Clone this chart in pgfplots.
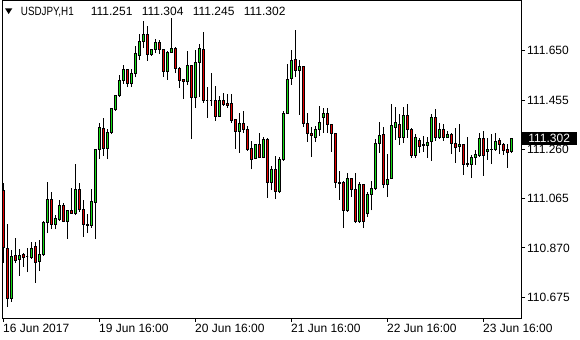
\documentclass[border=0pt]{standalone}
\usepackage{fontspec}
\setmainfont{Liberation Sans}
\usepackage{graphicx}
\usepackage{pgfplots}
\pgfplotsset{compat=1.18}
\usepackage{pgfplotstable}
\definecolor{upc}{RGB}{20,220,20}
\definecolor{dnc}{RGB}{230,0,0}
\pgfdeclareplotmark{candle}{%
  \pgfpathmoveto{\pgfpoint{0pt}{0pt}}%
  \pgfpathlineto{\pgfpoint{0pt}{\cdhh}}%
  \pgfusepathqstroke
  \pgfpathrectangle{\pgfpoint{-1bp}{\cdbb}}{\pgfpoint{2bp}{\cdbt-\cdbb}}%
  \pgfusepathqfillstroke}
\pgfplotstableread{
i o h l c
0 111.096 111.128 110.812 110.873
1 110.866 110.965 110.638 110.671
2 110.671 110.862 110.658 110.838
3 110.839 110.910 110.810 110.822
4 110.823 110.866 110.760 110.841
5 110.842 110.851 110.796 110.834
6 110.836 110.871 110.774 110.836
7 110.834 110.893 110.826 110.866
8 110.877 110.895 110.733 110.814
9 110.818 110.902 110.778 110.845
10 110.842 110.977 110.839 110.969
11 110.969 111.131 110.928 111.060
12 111.060 111.092 110.944 110.964
13 110.964 111.001 110.944 110.985
14 110.981 111.059 110.977 111.036
15 111.036 111.047 110.972 110.974
16 110.974 111.018 110.906 111.018
17 111.017 111.106 111.008 111.008
18 111.008 111.202 111.000 111.103
19 111.103 111.128 111.014 111.023
20 111.023 111.060 110.915 110.964
21 110.964 111.005 110.928 110.958
22 110.960 111.103 110.948 111.052
23 111.051 111.258 110.905 111.258
24 111.258 111.365 111.222 111.346
25 111.341 111.385 111.234 111.265
26 111.265 111.341 111.221 111.328
27 111.328 111.420 111.320 111.420
28 111.419 111.471 111.413 111.471
29 111.471 111.554 111.466 111.531
30 111.531 111.593 111.519 111.574
31 111.574 111.574 111.506 111.519
32 111.519 111.577 111.506 111.558
33 111.558 111.669 111.545 111.637
34 111.633 111.715 111.614 111.688
35 111.686 111.767 111.660 111.716
36 111.716 111.749 111.611 111.636
37 111.636 111.656 111.630 111.653
38 111.653 111.695 111.640 111.682
39 111.682 111.693 111.636 111.656
40 111.653 111.656 111.547 111.567
41 111.567 111.649 111.535 111.642
42 111.642 111.778 111.642 111.660
43 111.660 111.666 111.561 111.581
44 111.581 111.585 111.502 111.532
45 111.535 111.537 111.458 111.528
46 111.528 111.649 111.515 111.590
47 111.590 111.594 111.300 111.466
48 111.466 111.653 111.425 111.605
49 111.605 111.676 111.466 111.657
50 111.656 111.723 111.445 111.453
51 111.453 111.508 111.385 111.453
52 111.453 111.561 111.432 111.453
53 111.455 111.511 111.373 111.389
54 111.389 111.471 111.387 111.455
55 111.452 111.482 111.432 111.439
56 111.443 111.479 111.425 111.433
57 111.443 111.479 111.365 111.373
58 111.376 111.376 111.262 111.330
59 111.330 111.403 111.247 111.363
60 111.363 111.413 111.326 111.337
61 111.340 111.353 111.255 111.258
62 111.265 111.293 111.181 111.221
63 111.225 111.280 111.221 111.278
64 111.278 111.324 111.225 111.227
65 111.227 111.308 111.225 111.297
66 111.297 111.304 111.069 111.128
67 111.128 111.194 111.099 111.179
68 111.179 111.234 111.063 111.093
69 111.093 111.231 111.087 111.221
70 111.218 111.413 111.215 111.403
71 111.403 111.597 111.400 111.537
72 111.541 111.653 111.515 111.610
73 111.614 111.732 111.545 111.570
74 111.570 111.614 111.396 111.586
75 111.586 111.590 111.348 111.363
76 111.363 111.403 111.290 111.324
77 111.324 111.350 111.231 111.313
78 111.308 111.353 111.290 111.340
79 111.340 111.432 111.314 111.367
80 111.387 111.423 111.326 111.403
81 111.403 111.423 111.324 111.359
82 111.360 111.360 111.251 111.324
83 111.324 111.326 111.106 111.130
84 111.130 111.175 111.060 111.126
85 111.130 111.136 110.948 111.018
86 111.018 111.166 111.014 111.146
87 111.146 111.146 111.073 111.102
88 111.102 111.166 110.968 110.974
89 110.974 111.132 110.970 111.122
90 111.122 111.122 110.948 110.974
91 111.008 111.093 110.994 111.083
92 111.083 111.136 111.018 111.106
93 111.106 111.300 111.099 111.281
94 111.281 111.367 111.247 111.313
95 111.317 111.348 111.106 111.122
96 111.122 111.242 111.071 111.142
97 111.146 111.440 111.142 111.353
98 111.348 111.427 111.297 111.365
99 111.360 111.400 111.278 111.306
100 111.306 111.427 111.284 111.392
101 111.392 111.440 111.306 111.340
102 111.340 111.344 111.225 111.235
103 111.235 111.320 111.225 111.308
104 111.294 111.306 111.245 111.271
105 111.280 111.313 111.251 111.275
106 111.275 111.310 111.227 111.288
107 111.290 111.400 111.215 111.387
108 111.387 111.420 111.294 111.306
109 111.306 111.363 111.301 111.340
110 111.340 111.359 111.294 111.306
111 111.306 111.334 111.304 111.320
112 111.320 111.324 111.241 111.284
113 111.284 111.344 111.207 111.267
114 111.271 111.359 111.251 111.280
115 111.280 111.280 111.159 111.201
116 111.202 111.308 111.191 111.198
117 111.201 111.238 111.146 111.227
118 111.227 111.258 111.198 111.238
119 111.235 111.324 111.231 111.304
120 111.304 111.334 111.155 111.235
121 111.251 111.304 111.218 111.261
122 111.261 111.320 111.201 111.258
123 111.258 111.324 111.254 111.290
124 111.293 111.306 111.241 111.280
125 111.280 111.286 111.238 111.255
126 111.258 111.280 111.187 111.249
127 111.251 111.304 111.245 111.302
}\candles
\begin{document}
\begin{tikzpicture}[font=\fontsize{12bp}{14bp}\selectfont]
\useasboundingbox (0,0) rectangle (580bp,340bp);
\fill[white] (0,0) rectangle (580bp,340bp);
\begin{axis}[
  at={(2bp,22bp)}, anchor=south west,
  scale only axis, width=519bp, height=317bp,
  xmin=-0.25, xmax=129.5,
  ymin=110.5928, ymax=111.8466,
  axis line style={line width=1bp, black},
  tick style={line width=1bp, black},
  major tick length=4bp, tick align=outside,
  xtick pos=left, ytick pos=right, yticklabel pos=right,
  xtick={0,24,48,72,96,120},
  xticklabels={16 Jun 2017,19 Jun 16:00,20 Jun 16:00,21 Jun 16:00,22 Jun 16:00,23 Jun 16:00},
  ytick={110.675,110.870,111.065,111.260,111.455,111.650},
  yticklabels={110.675,110.870,111.065,111.260,111.455,111.650},
  xticklabel style={anchor=north west, inner sep=0pt, yshift=-2bp},
  yticklabel style={anchor=west, inner sep=0pt, xshift=2bp},
]
\addplot[only marks, mark=candle, mark options={draw=black, fill=upc, line width=1bp, solid},
  restrict expr to domain={\thisrow{c}-\thisrow{o}}{0:1},
  visualization depends on={(\thisrow{h}-\thisrow{l})*253.78 \as \cdhh},
  visualization depends on={(\thisrow{o}-\thisrow{l})*253.78 \as \cdbb},
  visualization depends on={(\thisrow{c}-\thisrow{l})*253.78 \as \cdbt},
] table[x=i, y=l] {\candles};
\addplot[only marks, mark=candle, mark options={draw=black, fill=dnc, line width=1bp, solid},
  restrict expr to domain={\thisrow{c}-\thisrow{o}}{-1:-0.0001},
  visualization depends on={(\thisrow{h}-\thisrow{l})*253.78 \as \cdhh},
  visualization depends on={(\thisrow{c}-\thisrow{l})*253.78 \as \cdbb},
  visualization depends on={(\thisrow{o}-\thisrow{l})*253.78 \as \cdbt},
] table[x=i, y=l] {\candles};
\coordinate (pr) at (axis cs:129.5,111.302);
\end{axis}
\fill[black] (5bp,331.7bp) -- (12.3bp,331.7bp) -- (8.65bp,326bp) -- cycle;
\node[anchor=base west, inner sep=0pt] at (20.7bp,324bp) {\scalebox{0.82}[1]{USDJPY,H1}};
\node[anchor=base west, inner sep=0pt] at (90.7bp,324bp) {111.251};
\node[anchor=base west, inner sep=0pt] at (141.7bp,324bp) {111.304};
\node[anchor=base west, inner sep=0pt] at (192.7bp,324bp) {111.245};
\node[anchor=base west, inner sep=0pt] at (243.7bp,324bp) {111.302};
\node[fill=black, text=white, anchor=west, inner sep=0pt, minimum width=56bp, minimum height=13.4bp] at (pr) {111.302};
\end{tikzpicture}
\end{document}
